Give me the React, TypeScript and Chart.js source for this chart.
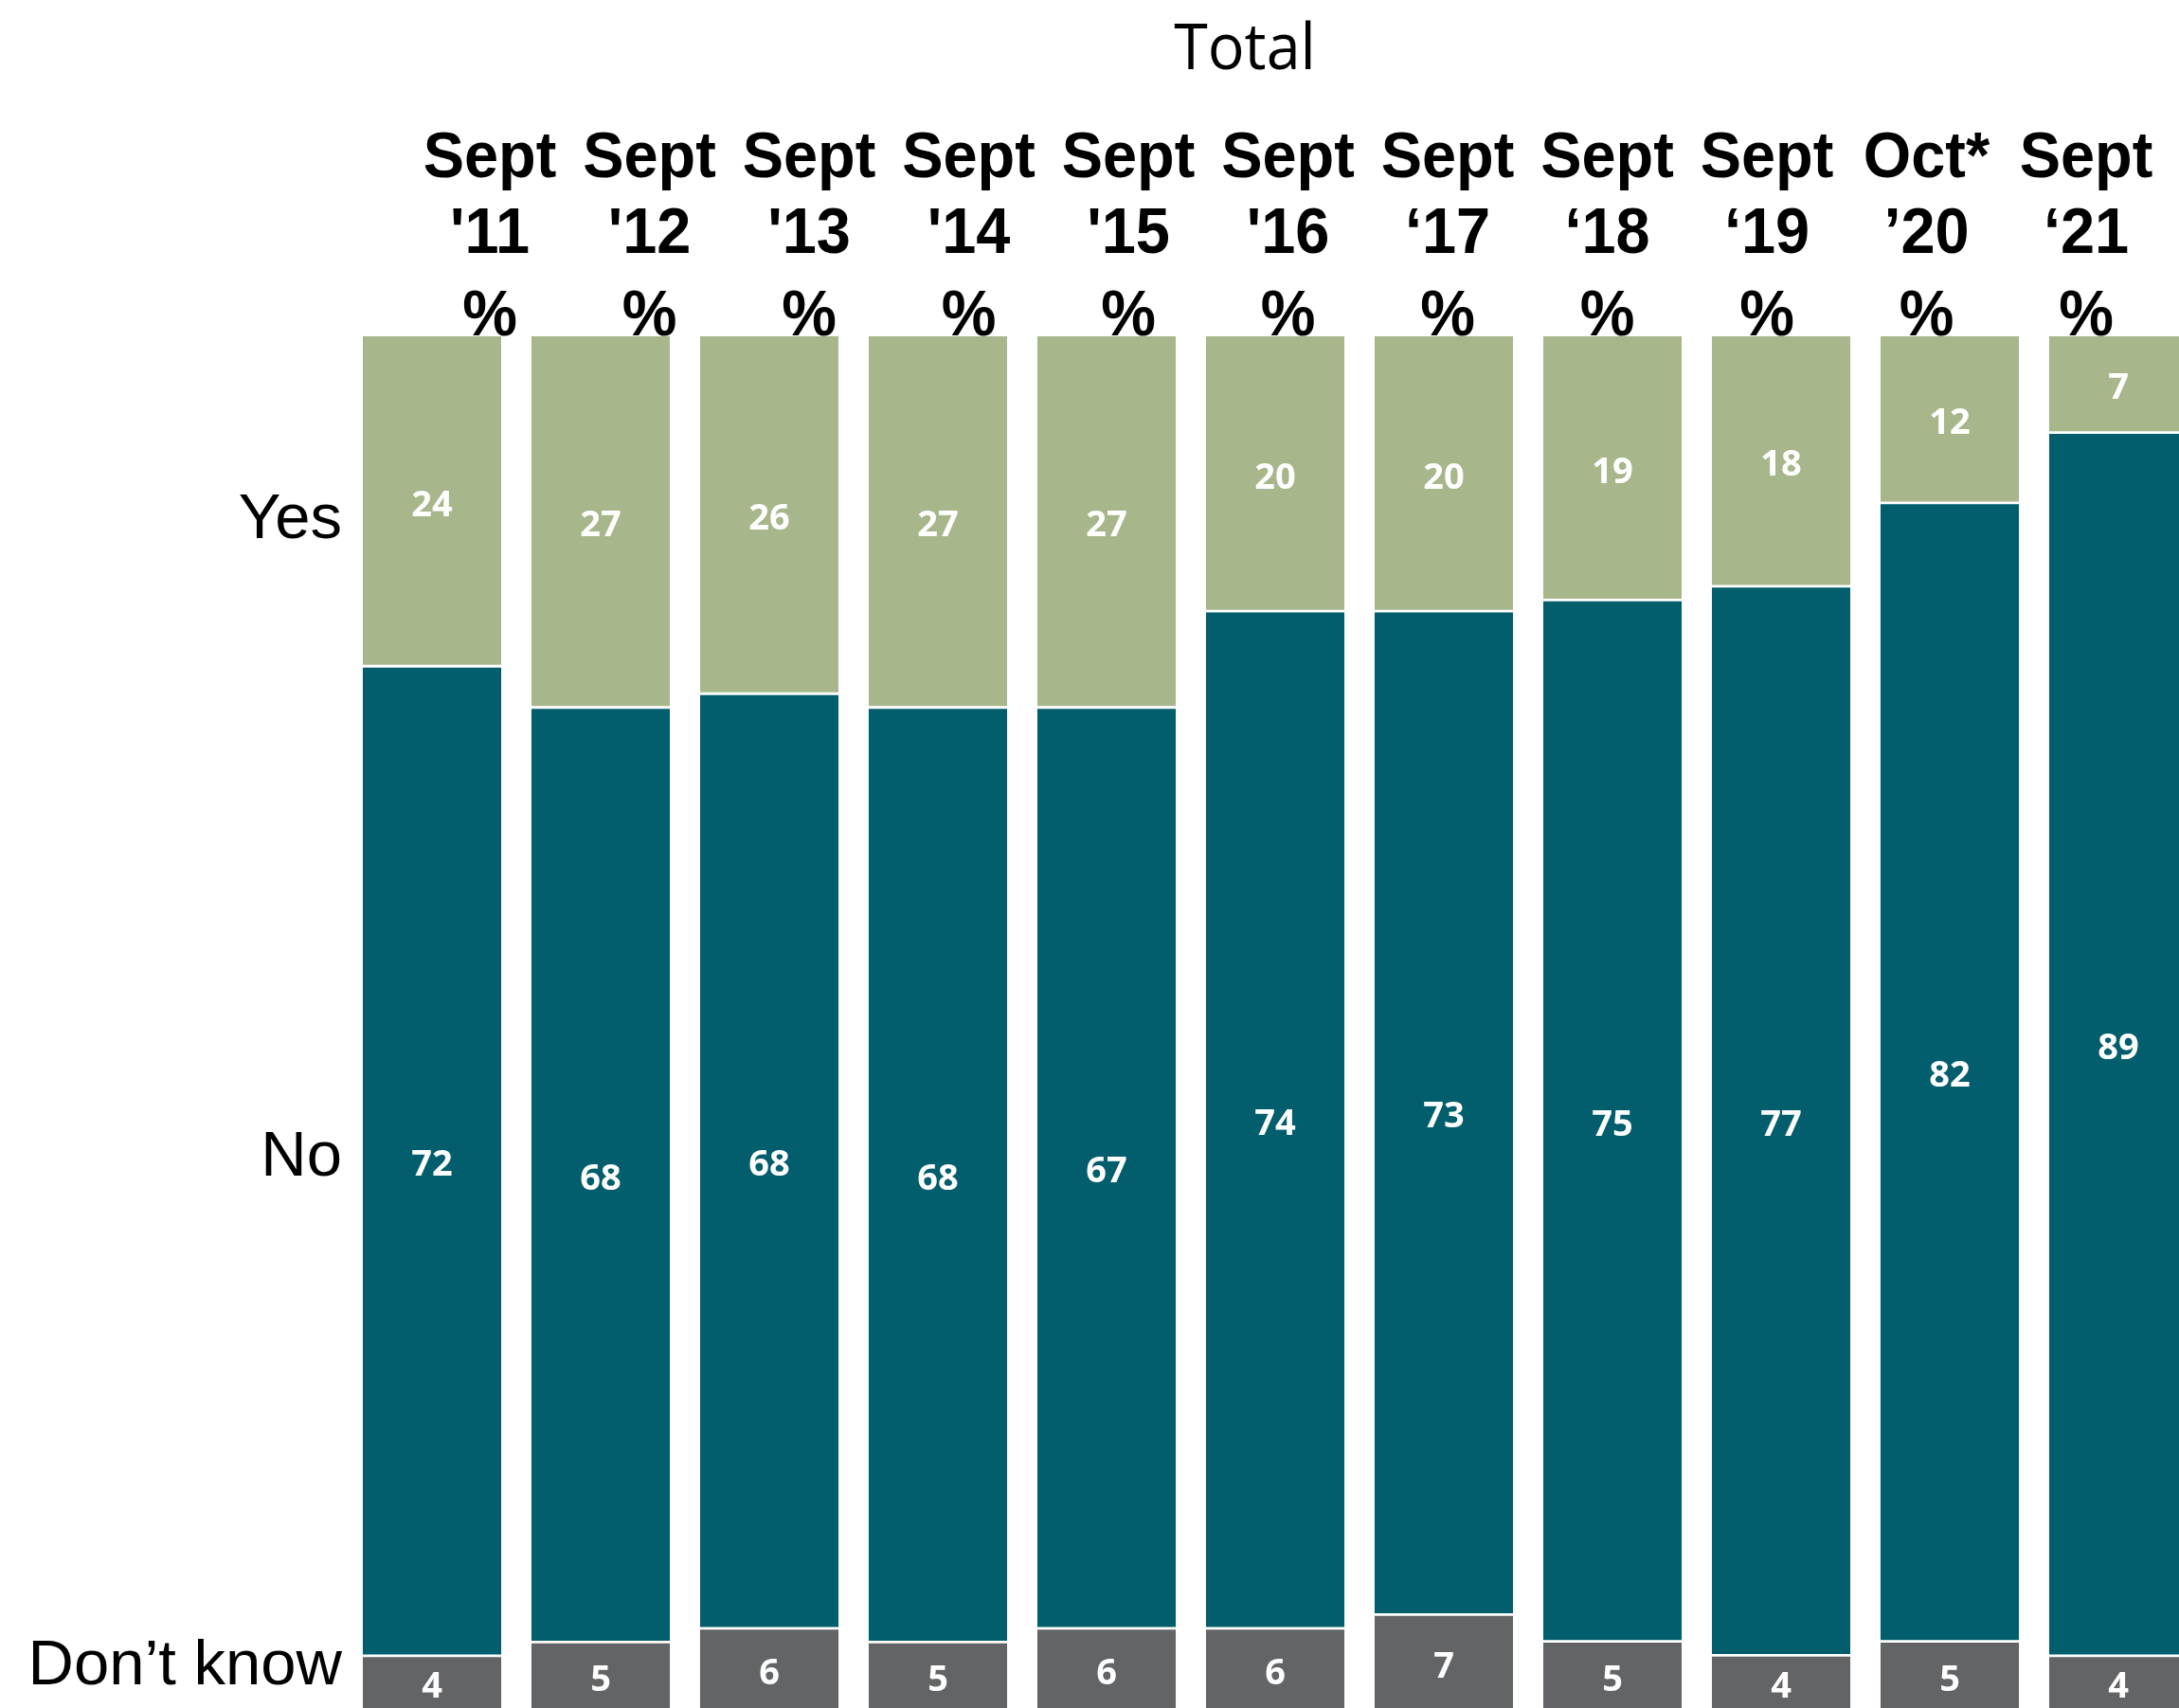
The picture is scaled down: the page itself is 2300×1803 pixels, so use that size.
import React, { useEffect, useRef } from "react";
import { Chart, registerables } from "chart.js";

Chart.register(...registerables);

// ---- Data ----
const HEADER_LINE1 = ["Sept", "Sept", "Sept", "Sept", "Sept", "Sept", "Sept", "Sept", "Sept", "Oct*", "Sept"];
const HEADER_LINE2 = ["'11", "'12", "'13", "'14", "'15", "'16", "\u201817", "\u201818", "\u201819", "\u201920", "\u201821"];
const HEADER_LINE3 = ["%", "%", "%", "%", "%", "%", "%", "%", "%", "%", "%"];
const YES = [24, 27, 26, 27, 27, 20, 20, 19, 18, 12, 7];
const NO = [72, 68, 68, 68, 67, 74, 73, 75, 77, 82, 89];
const DONT_KNOW = [4, 5, 6, 5, 6, 6, 7, 5, 4, 5, 4];
const SERIES_NAMES = ["Don\u2019t know", "No", "Yes"];
const TITLE = "Total";

// ---- Styling / layout ----
const COLORS = ["#636466", "#025E6C", "#A7B78B"];
const CANVAS_W = 2340;
const CANVAS_H = 1830;
const HEADER_X0 = 517;
const HEADER_STEP = 168.5;
const HEADER_BASELINES = [187, 267, 354];
const ROW_LABEL_Y = [3.6, 40.6, 87.0]; // y-scale value where each row name sits (DK, No, Yes)

function drawText(
  ctx: CanvasRenderingContext2D,
  text: string,
  x: number,
  y: number,
  font: string,
  color: string,
  align: CanvasTextAlign,
  sx: number
) {
  ctx.save();
  ctx.translate(x, y);
  ctx.scale(sx, 1);
  ctx.font = font;
  ctx.fillStyle = color;
  ctx.textAlign = align;
  ctx.textBaseline = "alphabetic";
  ctx.fillText(text, 0, 0);
  ctx.restore();
}

const overlayPlugin = {
  id: "overlay",
  beforeDatasetsDraw(chart: any) {
    const ctx = chart.ctx as CanvasRenderingContext2D;
    const yScale = chart.scales.y;
    // title
    drawText(ctx, TITLE, 1314, 73, "68px 'Open Sans', sans-serif", "#000", "center", 0.95);
    // column headers
    const hFont = "bold 69px 'Liberation Sans', Arial, sans-serif";
    const lines = [HEADER_LINE1, HEADER_LINE2, HEADER_LINE3];
    for (let i = 0; i < HEADER_LINE1.length; i++) {
      const cx = HEADER_X0 + i * HEADER_STEP;
      lines.forEach((arr, li) => {
        drawText(ctx, arr[i], cx, HEADER_BASELINES[li], hFont, "#000", "center", 0.94);
      });
    }
    // row labels
    const rFont = "67px 'Liberation Sans', Arial, sans-serif";
    SERIES_NAMES.forEach((name, k) => {
      const cy = yScale.getPixelForValue(ROW_LABEL_Y[k]);
      drawText(ctx, name, 361, cy + 24, rFont, "#000", "right", 1.0);
    });
  },
  afterDatasetsDraw(chart: any) {
    const ctx = chart.ctx as CanvasRenderingContext2D;
    const raw = [DONT_KNOW, NO, YES];
    chart.data.datasets.forEach((_ds: any, di: number) => {
      const meta = chart.getDatasetMeta(di);
      meta.data.forEach((el: any, i: number) => {
        const cy = (el.y + el.base) / 2;
        drawText(
          ctx,
          String(raw[di][i]),
          el.x,
          cy + 13.5 + 2,
          "bold 38px 'Open Sans', sans-serif",
          "#FFFFFF",
          "center",
          1.0
        );
      });
    });
  },
};

export default function App() {
  const canvasRef = useRef<HTMLCanvasElement | null>(null);

  useEffect(() => {
    if (!canvasRef.current) return;
    const totals = YES.map((y, i) => y + NO[i] + DONT_KNOW[i]);
    const norm = (arr: number[]) => arr.map((v, i) => (v / totals[i]) * 100);
    const seriesVals = [DONT_KNOW, NO, YES];

    const chart = new Chart(canvasRef.current, {
      type: "bar",
      data: {
        labels: HEADER_LINE1.map((l, i) => `${l} ${HEADER_LINE2[i]}`),
        datasets: seriesVals.map((vals, k) => ({
          label: SERIES_NAMES[k],
          data: norm(vals),
          backgroundColor: COLORS[k],
          borderColor: "#FFFFFF",
          borderSkipped: false,
          borderWidth:
            k === 0
              ? { top: 1.4, bottom: 0, left: 0, right: 0 }
              : k === 1
              ? { top: 1.4, bottom: 1.4, left: 0, right: 0 }
              : { top: 0, bottom: 1.4, left: 0, right: 0 },
          barPercentage: 0.822,
          categoryPercentage: 1,
          inflateAmount: 0,
        })),
      },
      options: {
        animation: false,
        responsive: false,
        devicePixelRatio: 1,
        layout: {
          padding: { left: 367, top: 355, right: CANVAS_W - 2325, bottom: CANVAS_H - 1806 },
        },
        scales: {
          x: { stacked: true, display: false, offset: true },
          y: { stacked: true, display: false, min: 0, max: 100 },
        },
        plugins: {
          legend: { display: false },
          title: { display: false },
          tooltip: { enabled: false },
        },
      },
      plugins: [overlayPlugin],
    } as any);

    return () => chart.destroy();
  }, []);

  return (
    <div
      style={{
        position: "fixed",
        left: 0,
        top: 0,
        width: 2300,
        height: 1803,
        overflow: "hidden",
        background: "#FFFFFF",
      }}
    >
      <canvas
        ref={canvasRef}
        width={CANVAS_W}
        height={CANVAS_H}
        style={{ display: "block", width: CANVAS_W, height: CANVAS_H }}
      />
    </div>
  );
}
